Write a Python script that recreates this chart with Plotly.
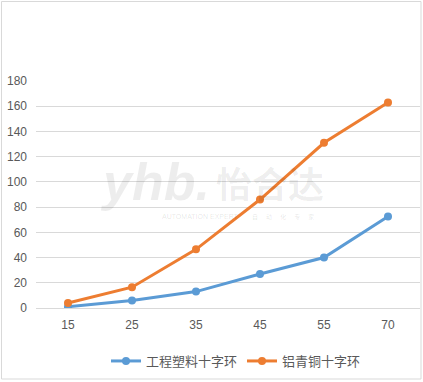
import plotly.graph_objects as go

categories = ["15", "25", "35", "45", "55", "70"]
plastic = [1, 6, 13, 27, 40, 72.5]
bronze = [4, 16.5, 46.5, 86, 131, 163]
series_names = ["工程塑料十字环", "铝青铜十字环"]
y_ticks = [0, 20, 40, 60, 80, 100, 120, 140, 160, 180]

W, H = 423, 382
ML, MR, MT, MB = 36, 3, 81, 74
pw, ph = W - ML - MR, H - MT - MB

font_main = "Liberation Sans, Noto Sans CJK SC, sans-serif"
font_cjk = "Noto Sans CJK SC, sans-serif"

fig = go.Figure()
fig.add_trace(go.Scatter(
    x=categories, y=plastic, name=series_names[0], mode="lines+markers",
    line=dict(color="#5B9BD5", width=3), marker=dict(size=8, color="#5B9BD5"),
))
fig.add_trace(go.Scatter(
    x=categories, y=bronze, name=series_names[1], mode="lines+markers",
    line=dict(color="#ED7D31", width=3), marker=dict(size=8, color="#ED7D31"),
))

def px_x(x):
    return (x - ML) / pw

def px_y(y):
    return (H - MB - y) / ph

shapes = [dict(type="rect", xref="paper", yref="paper",
               x0=px_x(1.5), x1=px_x(421), y0=px_y(379), y1=px_y(1.5),
               line=dict(color="#d9d9d9", width=1), layer="below")]

wm = "rgba(0,0,0,0.07)"
wm_small = "rgba(0,0,0,0.11)"
annotations = [
    dict(text="<b><i>yhb.</i></b>", x=px_x(212), y=px_y(182), xref="paper", yref="paper",
         xanchor="right", showarrow=False,
         font=dict(family="Liberation Sans", size=52, color=wm)),
    dict(text="<b>怡合达</b>", x=px_x(214), y=px_y(182), xref="paper", yref="paper",
         xanchor="left", showarrow=False, font=dict(family=font_cjk, size=36, color=wm)),
    dict(text="AUTOMATION EXPERT", x=px_x(160), y=px_y(216), xref="paper", yref="paper",
         showarrow=False, font=dict(family="Liberation Sans", size=7, color=wm_small)),
    dict(text="自      动      化      专      家", x=px_x(283), y=px_y(216), xref="paper",
         yref="paper", showarrow=False, font=dict(family=font_cjk, size=6, color=wm_small)),
]

fig.update_layout(
    width=W, height=H,
    margin=dict(l=ML, r=MR, t=MT, b=MB),
    paper_bgcolor="white", plot_bgcolor="white",
    font=dict(family=font_main, size=12, color="#595959"),
    showlegend=True,
    legend=dict(orientation="h", x=px_x(236), xanchor="center", y=px_y(361), yanchor="middle",
                font=dict(family=font_cjk, size=13, color="#595959"),
                itemwidth=30, tracegroupgap=0),
    xaxis=dict(type="category", range=[-0.5, 5.5], showgrid=False, showline=False,
               zeroline=False, ticks="", tickfont=dict(size=12, color="#595959"),
               ticklabelstandoff=8),
    yaxis=dict(range=[0, 180], tickvals=y_ticks, showgrid=True, gridcolor="#d9d9d9",
               gridwidth=1, zeroline=True, zerolinecolor="#d9d9d9", zerolinewidth=1,
               showline=False, ticks="", tickfont=dict(size=12, color="#595959"),
               ticklabelstandoff=8),
    shapes=shapes,
    annotations=annotations,
)

fig.write_html(
    "out.html",
    config={"displayModeBar": False},
    post_script="document.body.style.margin='0';document.body.style.overflow='hidden';",
)
